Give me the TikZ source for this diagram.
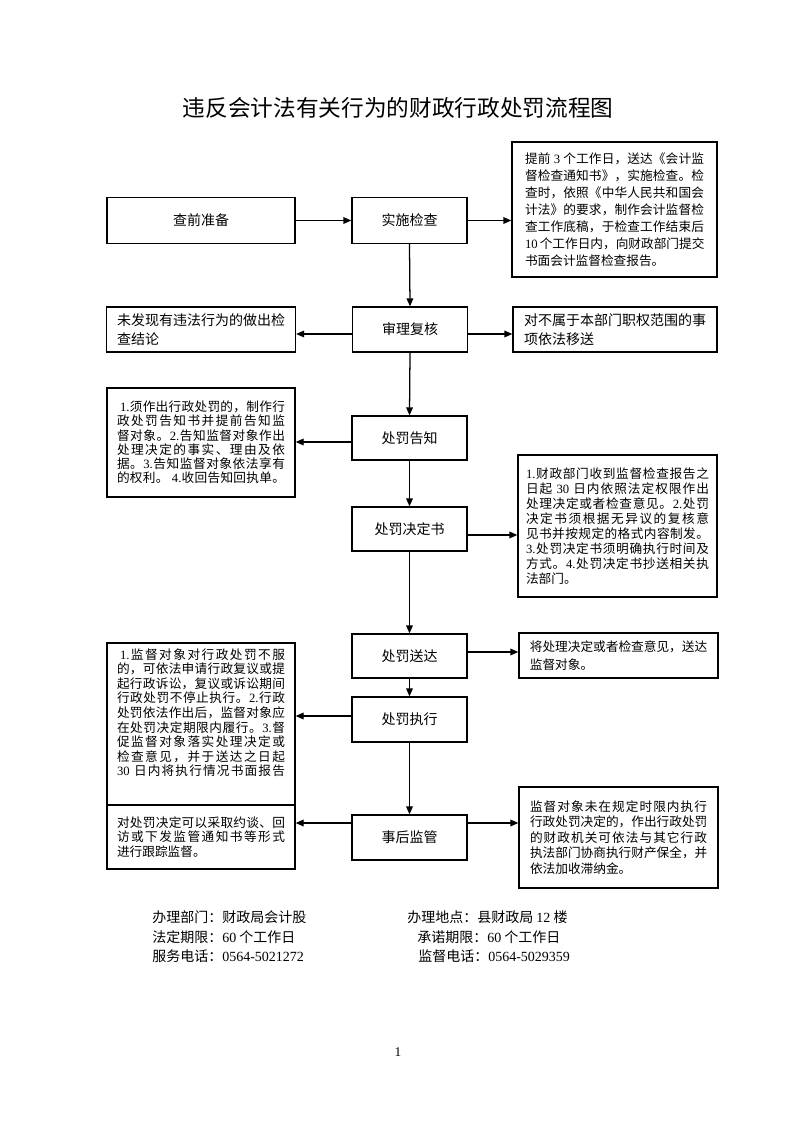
\documentclass[tikz,border=0pt]{standalone}
\usepackage{fontspec}
\setmainfont{Noto Sans CJK SC}
\newfontfamily\tm{Liberation Serif}
\usetikzlibrary{arrows.meta}
\newdimen\px \px=0.75pt
\newcommand\fs[2]{\fontsize{#1}{#2}\selectfont}
\ExplSyntaxOn
\NewDocumentCommand\Jl{m}{\hbox to \hsize{\tl_map_inline:nn{#1}{{##1}\hfil}\unskip}}
\ExplSyntaxOff
\newcommand\Nl[1]{\hbox{#1}}
\newcommand\TB[2]{\vbox{\hsize=#1\px #2}}
\tikzset{
  box/.style={draw, line width=0.95pt, fill=white, inner sep=0pt, align=center},
  lab/.style={font=\fs{10.5}{12}},
  arr/.style={-{Triangle[length=6pt,width=5pt]}, line width=0.95pt},
  foot/.style={anchor=west, inner sep=0pt, font=\fs{10.5}{12}}
}
\begin{document}
\begin{tikzpicture}[x=0.75pt,y=-0.75pt]
\useasboundingbox (0,0) rectangle (793,1122);
\node[font=\fs{17}{20}] (title) at (398,108) {违反会计法有关行为的财政行政处罚流程图};

% row 1
\node[box, lab, minimum width=188\px, minimum height=46\px] (A) at (201,220.5) {查前准备};
\node[box, lab, minimum width=115\px, minimum height=46\px] (B) at (409.5,220.5) {实施检查};
\node[box, minimum width=205\px, minimum height=135\px, font=\fs{9.5}{12.75}] (C) at (614.5,209.5) {\TB{179}{%
\Jl{提前{\tm\ 3\ }个工作日，送达《会计监}%
\Jl{督检查通知书》，实施检查。检}%
\Jl{查时，依照《中华人民共和国会}%
\Jl{计法》的要求，制作会计监督检}%
\Jl{查工作底稿，于检查工作结束后}%
\Jl{{\tm 10\ }个工作日内，向财政部门提交}%
\Nl{书面会计监督检查报告。}}};

% row 2
\node[box, minimum width=189\px, minimum height=45\px, font=\fs{10.5}{14.25}] (D) at (201,329.5) {\TB{168}{%
\Nl{未发现有违法行为的做出检}%
\Nl{查结论}}};
\node[box, lab, minimum width=115\px, minimum height=45\px] (E) at (410,329.5) {审理复核};
\node[box, minimum width=204\px, minimum height=45\px, font=\fs{10.5}{14.25}] (F) at (615,329.5) {\TB{186}{%
\Nl{对不属于本部门职权范围的事}%
\Nl{项依法移送}}};

% row 3
\node[box, minimum width=188\px, minimum height=109\px, font=\fs{9.5}{10.65}] (G) at (201,442.5) {\TB{168}{%
\Jl{{\kern3\px\tm 1.}须作出行政处罚的，制作行}%
\Jl{政处罚告知书并提前告知监}%
\Jl{督对象。{\tm 2.}告知监督对象作出}%
\Jl{处理决定的事实、理由及依}%
\Jl{据。{\tm 3.}告知监督对象依法享有}%
\Jl{的权利。{\tm\ 4.}收回告知回执单。}}};
\node[box, lab, minimum width=115\px, minimum height=44\px] (H) at (409.5,438) {处罚告知};

% row 4
\node[box, lab, minimum width=115\px, minimum height=44\px] (I) at (409.5,529) {处罚决定书};
\node[box, minimum width=199\px, minimum height=142\px, font=\fs{9.5}{11.25}] (J) at (617.5,526) {\TB{183}{%
\Jl{{\tm 1.}财政部门收到监督检查报告之}%
\Jl{日起{\tm\ 30\ }日内依照法定权限作出}%
\Jl{处理决定或者检查意见。{\tm 2.}处罚}%
\Jl{决定书须根据无异议的复核意}%
\Jl{见书并按规定的格式内容制发。}%
\Jl{{\tm 3.}处罚决定书须明确执行时间及}%
\Jl{方式。{\tm 4.}处罚决定书抄送相关执}%
\Nl{法部门。}}};

% row 5
\node[box, lab, minimum width=115\px, minimum height=44\px] (K) at (409.5,656) {处罚送达};
\node[box, minimum width=199\px, minimum height=45\px, font=\fs{9.5}{13.5}] (L) at (618.5,655.5) {\TB{178}{%
\Nl{将处理决定或者检查意见，送达}%
\Nl{监督对象。}}};

% row 6
\node[box, lab, minimum width=115\px, minimum height=45\px] (M) at (409.5,719.5) {处罚执行};
\node[box, minimum width=188\px, minimum height=162\px] (N) at (201,724) {};
\node[anchor=north, inner sep=0pt, font=\fs{9.5}{10.9}] (Ntext) at ([yshift=-6\px]N.north) {\TB{168}{%
\Jl{{\kern3\px\tm 1.}监督对象对行政处罚不服}%
\Jl{的，可依法申请行政复议或提}%
\Jl{起行政诉讼，复议或诉讼期间}%
\Jl{行政处罚不停止执行。{\tm 2.}行政}%
\Jl{处罚依法作出后，监督对象应}%
\Jl{在处罚决定期限内履行。{\tm 3.}督}%
\Jl{促监督对象落实处理决定或}%
\Jl{检查意见，并于送达之日起}%
\Jl{{\tm 30\ }日内将执行情况书面报告}}};

% row 7
\node[box, lab, minimum width=115\px, minimum height=45\px] (O) at (409.5,837.5) {事后监管};
\node[box, minimum width=188\px, minimum height=64\px, font=\fs{9.5}{10.9}] (P) at (201,837) {\TB{168}{%
\Jl{对处罚决定可以采取约谈、回}%
\Jl{访或下发监管通知书等形式}%
\Nl{进行跟踪监督。}}};
\node[box, minimum width=199\px, minimum height=101\px, font=\fs{9.5}{11.6}] (Q) at (618.5,837.5) {\TB{177}{%
\Jl{监督对象未在规定时限内执行}%
\Jl{行政处罚决定的，作出行政处罚}%
\Jl{的财政机关可依法与其它行政}%
\Jl{执法部门协商执行财产保全，并}%
\Nl{依法加收滞纳金。}}};

% connectors
\draw[arr] (A.east) -- (B.west);
\draw[arr] (B.east) -- (B.east -| C.west);
\draw[arr] (B.south) -- (E.north);
\draw[arr] ([yshift=-4.5\px]E.west) -- ([yshift=-4.5\px]E.west -| D.east);
\draw[arr] ([yshift=-4.5\px]E.east) -- ([yshift=-4.5\px]E.east -| F.west);
\draw[arr] (E.south) -- (H.north);
\draw[arr] ([yshift=-4\px]H.west) -- ([yshift=-4\px]H.west -| G.east);
\draw[arr] (H.south) -- (I.north);
\draw[arr] ([yshift=-6\px]I.east) -- ([yshift=-6\px]I.east -| J.west);
\draw[arr] (I.south) -- (K.north);
\draw[arr] ([yshift=4\px]K.east) -- ([yshift=4\px]K.east -| L.west);
\draw[arr] (K.south) -- (M.north);
\draw[arr] ([yshift=3.5\px]M.west) -- ([yshift=3.5\px]M.west -| N.east);
\draw[arr] (M.south) -- (O.north);
\draw[arr] ([yshift=14.5\px]O.west) -- ([yshift=14.5\px]O.west -| P.east);
\draw[arr] ([yshift=14.5\px]O.east) -- ([yshift=14.5\px]O.east -| Q.west);

% footer
\node[foot] (f1) at (152,917) {办理部门：财政局会计股};
\node[foot] (f2) at (152,937) {法定期限：{\tm 60} 个工作日};
\node[foot] (f3) at (152,956) {服务电话：{\tm 0564-5021272}};
\node[foot] (f4) at (407,917) {办理地点：县财政局 {\tm 12} 楼};
\node[foot] (f5) at (417,937) {承诺期限：{\tm 60} 个工作日};
\node[foot] (f6) at (418,956) {监督电话：{\tm 0564-5029359}};
\node[font=\fs{10}{12}] (pg) at (398,1052) {\tm 1};
\end{tikzpicture}
\end{document}
